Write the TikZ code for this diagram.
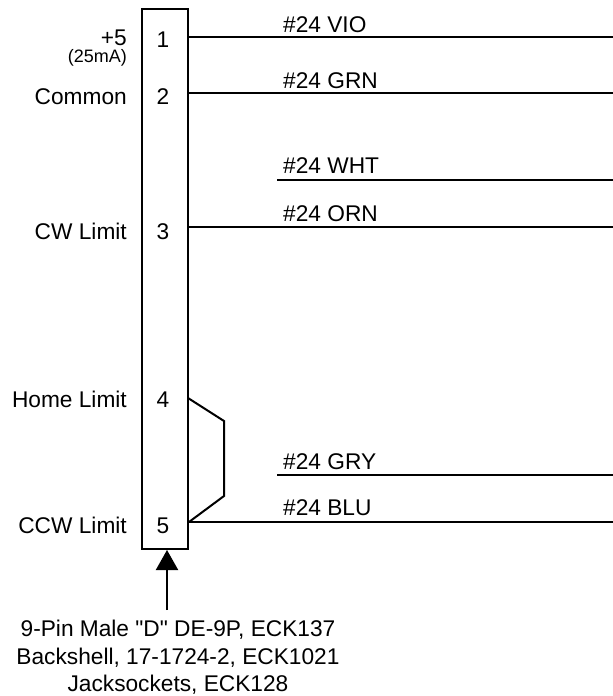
\documentclass[tikz,border=0pt]{standalone}
\usepackage{fontspec}
\setmainfont{Liberation Sans}
\newfontfamily\notefont{Liberation Sans}
\usetikzlibrary{arrows.meta}

\tikzset{
  wire/.style={line width=2pt},
  sig/.style={anchor=base east, inner sep=0pt, font=\fontsize{22.7}{27}\selectfont},
  pin/.style={anchor=base, inner sep=0pt, font=\fontsize{22.7}{27}\selectfont},
  wirelabel/.style={anchor=base west, inner sep=0pt, font=\fontsize{22.7}{27}\selectfont},
}

\begin{document}
\begin{tikzpicture}[x=1pt, y=-1pt]

  \useasboundingbox (0,0) rectangle (613,696);

  \node[draw=black, line width=2pt, minimum width=46pt, minimum height=540pt,
  inner sep=0pt] (conn) at (165,279) {};

  \node[pin] (p1) at (163,47) {1};
  \node[pin] (p2) at (163,104) {2};
  \node[pin] (p3) at (163,239) {3};
  \node[pin] (p4) at (163,407) {4};
  \node[pin] (p5) at (163,533) {5};

  \node[sig] (s1) at (127,45) {+5};
  \node[sig, font=\fontsize{18}{20}\selectfont] (s1b) at (127,62) {(25mA)};
  \node[sig] (s2) at (127,104) {Common};
  \node[sig] (s3) at (127,239) {CW Limit};
  \node[sig] (s4) at (127,407) {Home Limit};
  \node[sig] (s5) at (127,533) {CCW Limit};

  % wire ends
  \coordinate (e1) at (613,37);
  \coordinate (e2) at (613,93);
  \coordinate (e3) at (613,180);
  \coordinate (e4) at (613,227);
  \coordinate (e5) at (613,475);
  \coordinate (e6) at (613,522);
  \coordinate (w3) at (277,180);
  \coordinate (w5) at (277,475);

  \draw[wire] (conn.east |- e1) -- (e1);
  \draw[wire] (conn.east |- e2) -- (e2);
  \draw[wire] (w3) -- (e3);
  \draw[wire] (conn.east |- e4) -- (e4);
  \draw[wire] (w5) -- (e5);
  \draw[wire] (conn.east |- e6) -- (e6);

  \node[wirelabel] (l1) at (283,32) {\#24 VIO};
  \node[wirelabel] (l2) at (283,88) {\#24 GRN};
  \node[wirelabel] (l3) at (283,173) {\#24 WHT};
  \node[wirelabel] (l4) at (283,221) {\#24 ORN};
  \node[wirelabel] (l5) at (283,469) {\#24 GRY};
  \node[wirelabel] (l6) at (283,515) {\#24 BLU};

  % jumper 4 to 5
  \coordinate (j4) at (188,398);
  \draw[wire] (j4) -- (224,421) -- (224,496) -- (conn.east |- e6);

  \node[align=center, inner sep=0pt, font=\notefont\fontsize{22.7}{27.5}\selectfont, anchor=north] (note)
  at (178,620) {9-Pin Male "D" DE-9P, ECK137\\
    Backshell, 17-1724-2, ECK1021\\
    Jacksockets, ECK128};

  \coordinate (a0) at (167,610);
  \draw[wire, -{Triangle[width=22pt, length=20pt]}] (a0) -- (conn.south -| a0);

\end{tikzpicture}
\end{document}
